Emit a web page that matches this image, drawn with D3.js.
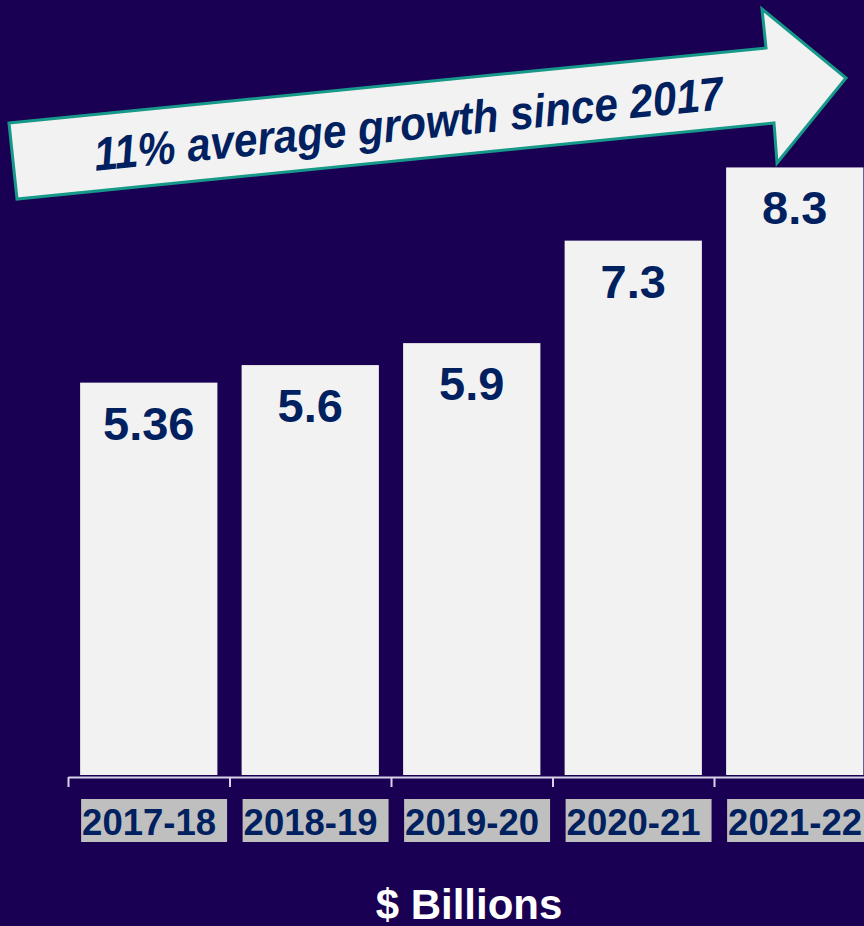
<!DOCTYPE html>
<html>
<head>
<meta charset="utf-8">
<script src="https://cdn.jsdelivr.net/npm/d3@7"></script>
<style>
  html, body { margin: 0; padding: 0; background: #1A0052; }
  svg { display: block; }
  text { font-family: "Liberation Sans", Arial, sans-serif; font-weight: bold; }
</style>
</head>
<body>
<div id="chart"></div>
<script>
// data
var years = ["2017-18", "2018-19", "2019-20", "2020-21", "2021-22"];
var spend = [5.36, 5.6, 5.9, 7.3, 8.3];
var valueLabels = ["5.36", "5.6", "5.9", "7.3", "8.3"];
var growthNote = "11% average growth since 2017";
var unitLabel = "$ Billions";

var W = 864, H = 926;
var axisY = 777, baseY = 775;

var svg = d3.select("#chart").append("svg")
    .attr("width", W)
    .attr("height", H);

svg.append("rect")
    .attr("width", W).attr("height", H)
    .attr("fill", "#1A0052");

var x = d3.scaleBand()
    .domain(years)
    .range([68, 875.5])
    .paddingInner(0.15)
    .paddingOuter(0.075);

var y = d3.scaleLinear()
    .domain([0, 10])
    .range([baseY, 43]);

var data = years.map(function(d, i){
    return { year: d, value: spend[i], label: valueLabels[i] };
});

// bars
svg.selectAll("rect.bar").data(data).enter()
    .append("rect")
    .attr("class", "bar")
    .attr("x", function(d){ return x(d.year); })
    .attr("y", function(d){ return y(d.value); })
    .attr("width", x.bandwidth())
    .attr("height", function(d){ return baseY - y(d.value); })
    .attr("fill", "#F2F2F2");

// value labels
svg.selectAll("text.val").data(data).enter()
    .append("text")
    .attr("class", "val")
    .attr("x", function(d){ return x(d.year) + x.bandwidth() / 2; })
    .attr("y", function(d){ return y(d.value) + 57; })
    .attr("text-anchor", "middle")
    .attr("font-size", "47px")
    .attr("fill", "#002060")
    .text(function(d){ return d.label; });

// axis: ticks on category boundaries
var xb = d3.scaleLinear().domain([0, years.length]).range([68, 875.5]);
var axis = svg.append("g")
    .attr("transform", "translate(0," + axisY + ")")
    .call(d3.axisBottom(xb)
        .tickValues(d3.range(years.length + 1))
        .tickFormat("")
        .tickSize(10)
        .tickSizeOuter(0));
axis.select(".domain").attr("stroke", "#D8D4E8").attr("stroke-width", 2);
axis.selectAll(".tick line").attr("stroke", "#D8D4E8").attr("stroke-width", 2);

// category labels on grey boxes
var cat = svg.selectAll("g.cat").data(data).enter()
    .append("g")
    .attr("class", "cat");
var catBox = cat.append("rect")
    .attr("x", function(d){ return x(d.year) + 1; })
    .attr("y", 799)
    .attr("height", 43)
    .attr("fill", "#BFBFBF");
var catText = cat.append("text")
    .attr("x", function(d){ return x(d.year) + 2; })
    .attr("y", 835)
    .attr("font-size", "36.5px")
    .attr("fill", "#002060")
    .text(function(d){ return d.year; });
catText.each(function(d){
    d.tw = this.getComputedTextLength();
});
catBox.attr("width", function(d){ return d.tw + 12; });

// growth arrow annotation
var arrowPts = [[9,123],[766,48],[762,9],[846,78],[777,163],[774,123],[17,199]];
svg.append("polygon")
    .attr("points", arrowPts.map(function(p){ return p.join(","); }).join(" "))
    .attr("fill", "#F2F2F2")
    .attr("stroke", "#17998A")
    .attr("stroke-width", 3)
    .attr("stroke-linejoin", "miter");

svg.append("text")
    .attr("transform", "translate(410,140) rotate(-5.6)")
    .attr("text-anchor", "middle")
    .attr("font-size", "47px")
    .attr("font-style", "italic")
    .attr("fill", "#002060")
    .attr("textLength", 632)
    .attr("lengthAdjust", "spacingAndGlyphs")
    .text(growthNote);

// unit label
svg.append("text")
    .attr("x", 469)
    .attr("y", 919)
    .attr("text-anchor", "middle")
    .attr("font-size", "42px")
    .attr("fill", "#FFFFFF")
    .text(unitLabel);
</script>
</body>
</html>
